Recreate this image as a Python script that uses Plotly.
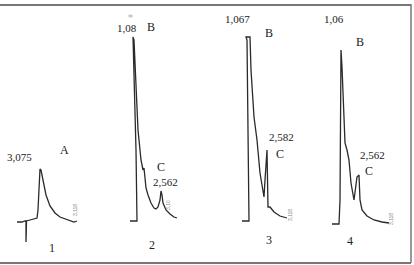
import plotly.graph_objects as go

# Chromatogram 1 (time, response)
t1 = [17, 22, 25, 26, 26, 26.5, 30, 34, 37, 38, 39, 40, 41, 43, 46, 50, 55, 60, 65, 70, 74, 77]
r1 = [43, 43, 44, 44, 23, 44, 45, 46, 47, 55, 80, 96, 95, 85, 70, 59, 52, 48, 46, 44, 43, 44]

# Chromatogram 2
t2 = [130, 134, 137, 136, 133, 134, 136, 138, 141, 143, 144, 145, 146, 148, 151, 154, 156, 158, 160, 161, 162, 163, 166, 170, 174, 177]
r2 = [44, 44, 44, 115, 228, 225, 175, 135, 105, 95, 97, 87, 77, 70, 62, 57, 56, 58, 65, 74, 70, 62, 55, 51, 48, 47]

# Chromatogram 3
t3 = [242, 249, 247, 246, 250, 251, 254, 257, 260, 264, 265, 266, 267, 268, 270, 274, 280, 287]
r3 = [44, 44, 225, 228, 228, 195, 148, 125, 92, 68, 85, 105, 115, 58, 58, 53, 49, 47]

# Chromatogram 4
t4 = [332, 339, 340, 341, 342, 344, 345, 347, 349, 351, 354, 357, 359, 360, 362, 367, 374, 382, 389]
r4 = [41, 41, 65, 215, 198, 148, 122, 115, 105, 82, 65, 88, 90, 65, 55, 49, 45, 43, 42]

# Text labels
lab_text = ["3,075", "A", "1", "1,08", "B", "C", "2,562", "2",
            "1,067", "B", "2,582", "C", "3", "1,06", "B", "2,562", "C", "4"]
lab_x = [19, 64, 52, 127, 151, 161, 165, 152, 237, 269, 281, 280, 269, 334, 360, 372, 369, 350]
lab_y = [108, 115, 17, 237, 238, 98, 83, 20, 246, 232, 128, 111, 25, 246, 223, 110, 94, 24]
lab_size = [11, 12, 12, 11, 12, 12, 11, 12, 11, 12, 11, 12, 12, 11, 12, 11, 12, 12]

small_text = ["3,118", "3,10", "3,118", "3,118"]
small_x = [75, 168, 290, 391]
small_y = [55, 60, 50, 46]

fig = go.Figure()
for t, r in [(t1, r1), (t2, r2), (t3, r3), (t4, r4)]:
    fig.add_trace(go.Scatter(x=t, y=r, mode="lines",
                             line=dict(color="#2a2a2a", width=1.3),
                             hoverinfo="skip", showlegend=False))

for s, x, y, fs in zip(lab_text, lab_x, lab_y, lab_size):
    fig.add_annotation(x=x, y=y, text=s, showarrow=False,
                       font=dict(family="Liberation Serif", size=fs, color="#222"))
for s, x, y in zip(small_text, small_x, small_y):
    fig.add_annotation(x=x, y=y, text=s, showarrow=False, textangle=-90,
                       font=dict(family="Liberation Sans", size=5, color="#888"))
fig.add_annotation(x=130, y=249, text="∞", showarrow=False,
                   font=dict(family="Liberation Serif", size=7, color="#777"))

# frame
fig.add_shape(type="line", xref="x", yref="y", x0=0, x1=411, y0=260, y1=260,
              line=dict(color="#777", width=2))
fig.add_shape(type="line", xref="x", yref="y", x0=0, x1=411, y0=2, y1=2,
              line=dict(color="#777", width=2))
fig.add_shape(type="line", xref="x", yref="y", x0=411, x1=411, y0=2, y1=261,
              line=dict(color="#777", width=1.5))

fig.update_xaxes(range=[0, 414], visible=False, fixedrange=True)
fig.update_yaxes(range=[0, 265], visible=False, fixedrange=True)
fig.update_layout(width=414, height=265, margin=dict(l=0, r=0, t=0, b=0),
                  paper_bgcolor="white", plot_bgcolor="white")
fig.write_html("out.html")
